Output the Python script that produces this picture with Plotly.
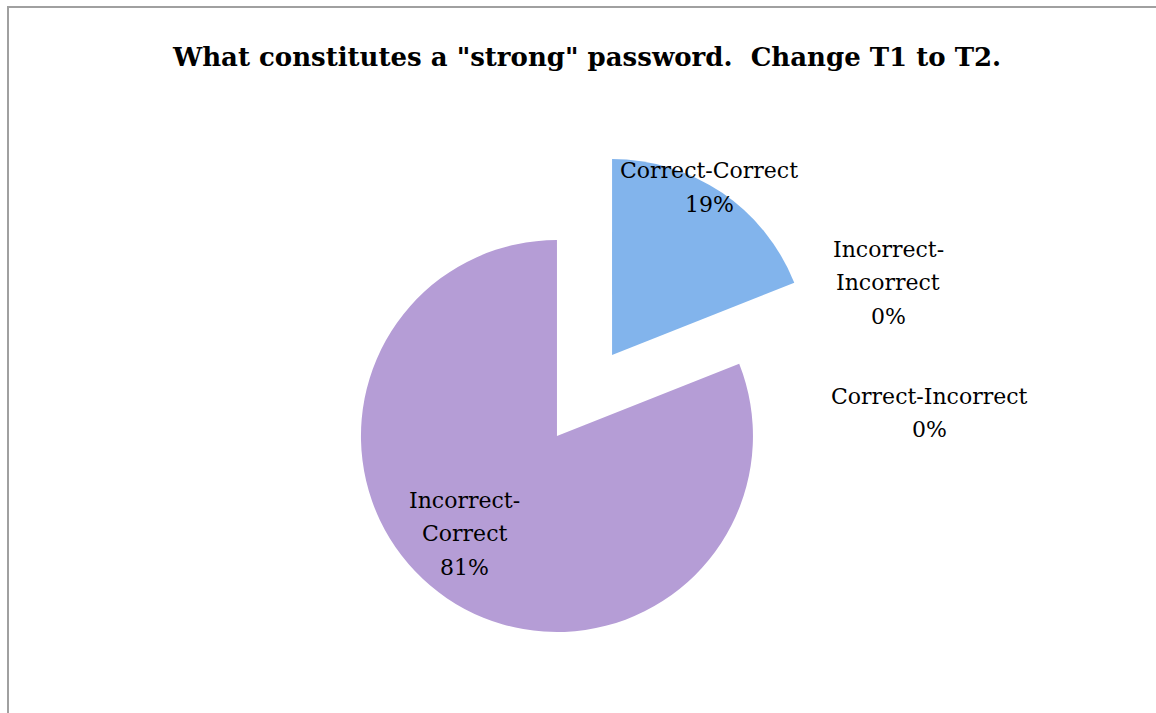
import plotly.graph_objects as go

# Survey answers: change from T1 to T2
categories = ["Correct-Correct", "Incorrect-Incorrect", "Correct-Incorrect", "Incorrect-Correct"]
shares = [19, 0, 0, 81]
# label wrapped after its hyphen
wrapped = [False, True, False, True]

slice_colors = ["#82B4EC", "#8FBCF0", "#9AC2F2", "#B59DD6"]
explode = [0.25, 0, 0, 0.25]

W, H = 1156, 713

fig = go.Figure(
    go.Pie(
        labels=categories,
        values=shares,
        sort=False,
        direction="clockwise",
        rotation=0,
        pull=explode,
        marker=dict(colors=slice_colors, line=dict(width=0)),
        textinfo="none",
        hoverinfo="label+percent",
        showlegend=False,
        domain=dict(x=[339.5 / W, 829.5 / W], y=[72.5 / H, 562.5 / H]),
    )
)

# label anchors: (centre x, first-line y) in pixels from the top-left
label_pos = [(709, 171), (888, 249), (929, 396), (464, 500)]
line_gap = 33.5

annotations = []
for cat, val, wrap, (px, py) in zip(categories, shares, wrapped, label_pos):
    if wrap:
        head, tail = cat.split("-", 1)
        lines = [head + "-", tail]
    else:
        lines = [cat]
    lines.append(f"{val:.0f}%")
    for i, txt in enumerate(lines):
        annotations.append(
            dict(
                text=txt,
                x=px / W,
                y=1 - (py + i * line_gap) / H,
                xref="paper",
                yref="paper",
                xanchor="center",
                yanchor="middle",
                showarrow=False,
                font=dict(family="DejaVu Serif", size=22, color="#000000"),
            )
        )

annotations.append(
    dict(
        text='<b>What constitutes a "strong" password.  Change T1 to T2.</b>',
        x=586.5 / W,
        y=1 - 57 / H,
        xref="paper",
        yref="paper",
        xanchor="center",
        yanchor="middle",
        showarrow=False,
        font=dict(family="DejaVu Serif", size=26, color="#000000"),
    )
)

fig.update_layout(
    width=W,
    height=H,
    margin=dict(l=0, r=0, t=0, b=0),
    paper_bgcolor="#FFFFFF",
    plot_bgcolor="#FFFFFF",
    annotations=annotations,
    shapes=[
        dict(
            type="rect",
            xref="paper",
            yref="paper",
            x0=8 / W,
            x1=1.2,
            y0=-0.2,
            y1=1 - 7 / H,
            line=dict(color="#A0A0A0", width=2),
            fillcolor="rgba(0,0,0,0)",
            layer="below",
        )
    ],
)

fig.write_html("out.html")
